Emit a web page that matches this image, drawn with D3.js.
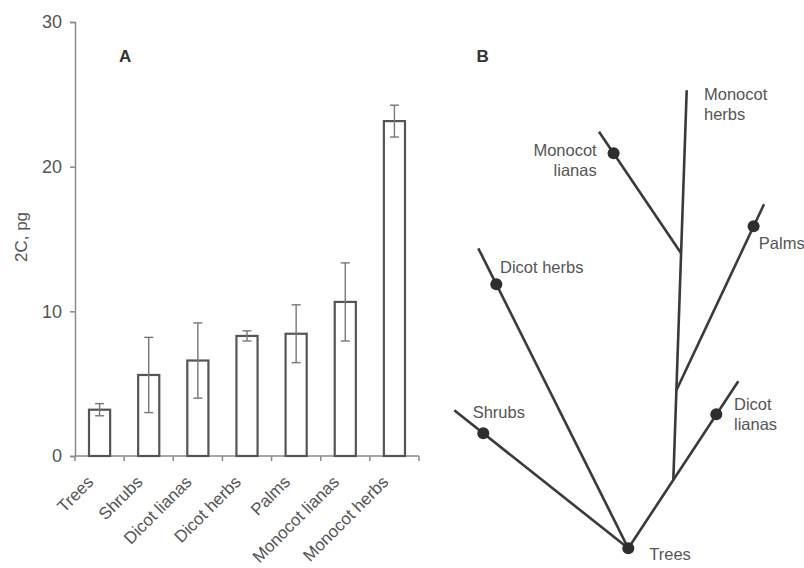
<!DOCTYPE html>
<html>
<head>
<meta charset="utf-8">
<script src="https://cdn.jsdelivr.net/npm/d3@7"></script>
<style>
  html, body { margin: 0; padding: 0; background: #fff; }
  svg { display: block; }
  text { font-family: "Liberation Sans", Arial, sans-serif; }
</style>
</head>
<body>
<svg id="chart" width="804" height="568"></svg>
<script>
// ---- Panel A data ----
const categories = ["Trees", "Shrubs", "Dicot lianas", "Dicot herbs", "Palms", "Monocot lianas", "Monocot herbs"];
const meanValues = [3.2, 5.6, 6.6, 8.3, 8.45, 10.65, 23.15];
const errorValues = [0.42, 2.6, 2.6, 0.35, 2.0, 2.7, 1.1];
const yTicks = [0, 10, 20, 30];

// ---- Panel B data (diagram units, root = Trees at 0,0) ----
const treeNodes = [
  {id: "root", x: 0, y: 0},
  {id: "shrubsTip", x: -174, y: 138},
  {id: "dicotHerbsTip", x: -150, y: 300},
  {id: "dicotLianasTip", x: 110, y: 167},
  {id: "monoBase", x: 45, y: 68},
  {id: "palmsJunction", x: 48.1, y: 158},
  {id: "monoLianasJunction", x: 52.8, y: 295},
  {id: "monoHerbsTip", x: 58.4, y: 458},
  {id: "palmsTip", x: 135.7, y: 344},
  {id: "monoLianasTip", x: -29.3, y: 416.6}
];
const treeEdges = [
  ["root", "shrubsTip"],
  ["root", "dicotHerbsTip"],
  ["root", "dicotLianasTip"],
  ["monoBase", "monoHerbsTip"],
  ["palmsJunction", "palmsTip"],
  ["monoLianasJunction", "monoLianasTip"]
];
const treeDots = [
  {x: 0, y: 0},
  {x: -145, y: 115},
  {x: -132, y: 264},
  {x: 88, y: 134},
  {x: 125.3, y: 322},
  {x: -14.7, y: 395}
];
const treeLabels = [
  {lines: ["Trees"], x: 21, y: -12, anchor: "start"},
  {lines: ["Shrubs"], x: -155.6, y: 130.6, anchor: "start"},
  {lines: ["Dicot herbs"], x: -128.3, y: 275.6, anchor: "start"},
  {lines: ["Dicot", "lianas"], x: 105.7, y: 138.3, anchor: "start"},
  {lines: ["Palms"], x: 130.5, y: 299.3, anchor: "start"},
  {lines: ["Monocot", "lianas"], x: -31.6, y: 392.3, anchor: "end"},
  {lines: ["Monocot", "herbs"], x: 75.7, y: 448.3, anchor: "start"}
];

const svg = d3.select("#chart");
const axisColor = "#8a8a8a";
const textColor = "#555";

// ---------- Panel A ----------
const y = d3.scaleLinear().domain([0, 30]).range([456, 22]);
const x = d3.scaleBand().domain(categories).range([75, 419]).paddingInner(0.57).paddingOuter(0.285);
const gA = svg.append("g");

// y axis
const yAxis = d3.axisLeft(y).tickValues(yTicks).tickSize(5).tickPadding(8).tickFormat(d3.format("d"));
const gy = gA.append("g").attr("transform", "translate(75,0)").call(yAxis);
gy.select(".domain").attr("stroke", axisColor).attr("stroke-width", 1.5);
gy.selectAll(".tick line").attr("stroke", axisColor).attr("stroke-width", 1.5);
gy.selectAll(".tick text").attr("fill", textColor).style("font-size", "18px")
  .style("font-family", '"Liberation Sans", Arial, sans-serif');

// x axis baseline and boundary ticks
const step = x.step();
const boundaries = d3.range(categories.length + 1).map(i => x.range()[0] + i * step);
gA.append("line").attr("x1", x.range()[0]).attr("x2", x.range()[1])
  .attr("y1", y(0)).attr("y2", y(0)).attr("stroke", axisColor).attr("stroke-width", 1.5);
gA.selectAll(".xtick").data(boundaries).join("line")
  .attr("x1", d => d).attr("x2", d => d).attr("y1", y(0)).attr("y2", y(0) + 5)
  .attr("stroke", axisColor).attr("stroke-width", 1.5);

// bars
gA.selectAll(".bar").data(categories).join("rect")
  .attr("x", d => x(d)).attr("width", x.bandwidth())
  .attr("y", (d, i) => y(meanValues[i])).attr("height", (d, i) => y(0) - y(meanValues[i]))
  .attr("fill", "#fff").attr("stroke", "#555").attr("stroke-width", 2.2);

// error bars
const eb = gA.selectAll(".err").data(categories).join("g");
eb.append("line")
  .attr("x1", d => x(d) + x.bandwidth() / 2).attr("x2", d => x(d) + x.bandwidth() / 2)
  .attr("y1", (d, i) => y(meanValues[i] + errorValues[i])).attr("y2", (d, i) => y(meanValues[i] - errorValues[i]))
  .attr("stroke", "#777").attr("stroke-width", 1.4);
[1, -1].forEach(s => {
  eb.append("line")
    .attr("x1", d => x(d) + x.bandwidth() / 2 - 4.5).attr("x2", d => x(d) + x.bandwidth() / 2 + 4.5)
    .attr("y1", (d, i) => y(meanValues[i] + s * errorValues[i])).attr("y2", (d, i) => y(meanValues[i] + s * errorValues[i]))
    .attr("stroke", "#777").attr("stroke-width", 1.4);
});

// category labels
gA.selectAll(".xlab").data(categories).join("text")
  .attr("transform", d => `translate(${x(d) + x.bandwidth() / 2 - 5},${y(0) + 27}) rotate(-45)`)
  .attr("text-anchor", "end").attr("fill", textColor).style("font-size", "17px")
  .text(d => d);

// y label
gA.append("text").attr("transform", "translate(27,237) rotate(-90)")
  .attr("text-anchor", "middle").attr("fill", textColor).style("font-size", "17px").text("2C, pg");

// panel letter
gA.append("text").attr("x", 119).attr("y", 62).attr("fill", "#333")
  .style("font-size", "17px").style("font-weight", "bold").text("A");

// ---------- Panel B ----------
const tx = d3.scaleLinear().domain([-200, 200]).range([428.3, 828.3]);
const ty = d3.scaleLinear().domain([0, 500]).range([548.3, 48.3]);
const gB = svg.append("g");
const nodeById = new Map(treeNodes.map(n => [n.id, n]));

gB.selectAll(".edge").data(treeEdges).join("line")
  .attr("x1", d => tx(nodeById.get(d[0]).x)).attr("y1", d => ty(nodeById.get(d[0]).y))
  .attr("x2", d => tx(nodeById.get(d[1]).x)).attr("y2", d => ty(nodeById.get(d[1]).y))
  .attr("stroke", "#3a3a3a").attr("stroke-width", 2.6).attr("stroke-linecap", "butt");

gB.selectAll(".dot").data(treeDots).join("circle")
  .attr("cx", d => tx(d.x)).attr("cy", d => ty(d.y)).attr("r", 6)
  .attr("fill", "#2e2e2e");

const lab = gB.selectAll(".tlab").data(treeLabels).join("text")
  .attr("x", d => tx(d.x)).attr("y", d => ty(d.y))
  .attr("text-anchor", d => d.anchor).attr("fill", textColor).style("font-size", "16.5px");
lab.selectAll("tspan").data(d => d.lines.map((l, i) => ({l, i, x: tx(d.x)}))).join("tspan")
  .attr("x", d => d.x).attr("dy", d => d.i === 0 ? 0 : 20).text(d => d.l);

gB.append("text").attr("x", 476.5).attr("y", 62).attr("fill", "#333")
  .style("font-size", "17px").style("font-weight", "bold").text("B");
</script>
</body>
</html>
